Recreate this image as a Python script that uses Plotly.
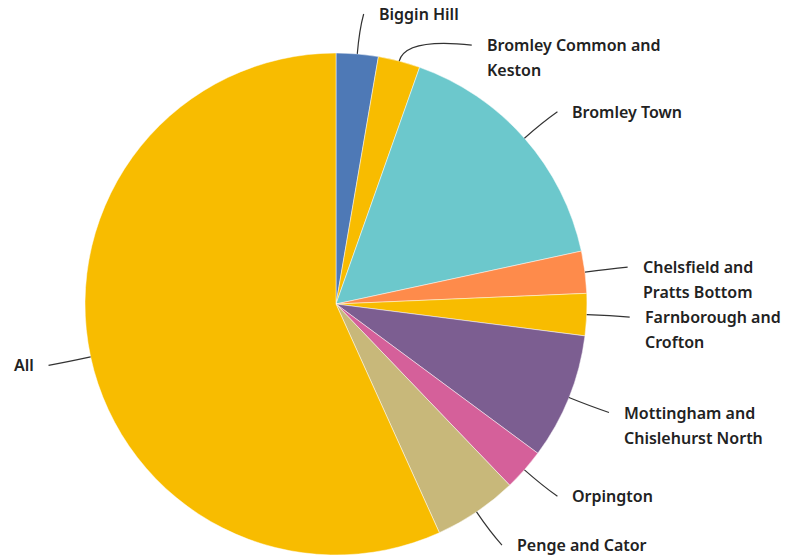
import math
import plotly.graph_objects as go

# Ward breakdown (counts)
wards = [
    "Biggin Hill",
    "Bromley Common and Keston",
    "Bromley Town",
    "Chelsfield and Pratts Bottom",
    "Farnborough and Crofton",
    "Mottingham and Chislehurst North",
    "Orpington",
    "Penge and Cator",
    "All",
]
counts = [1, 1, 6, 1, 1, 3, 1, 2, 21]
label_lines = [
    ["Biggin Hill"],
    ["Bromley Common and", "Keston"],
    ["Bromley Town"],
    ["Chelsfield and", "Pratts Bottom"],
    ["Farnborough and", "Crofton"],
    ["Mottingham and", "Chislehurst North"],
    ["Orpington"],
    ["Penge and Cator"],
    ["All"],
]
colors = ["#4e79b6", "#f8bc00", "#6cc8cc", "#fe8b4b", "#f8bc00",
          "#7c5e91", "#d5609a", "#c8b87a", "#f8bc00"]

W, H = 797, 559
CX, CY, RAD = 336, 304, 251      # pie centre and radius in pixels
LABEL_R = RAD + 40               # radius on which label elbows sit
LINE_H = 25                      # text line height
MIN_SEP = 31                     # minimum distance between label blocks
GAP = 16                         # elbow-to-text gap

def px(x):
    return x / W

def py(y):
    return 1 - y / H

fig = go.Figure(go.Pie(
    labels=wards,
    values=counts,
    sort=False,
    direction="clockwise",
    rotation=0,
    marker=dict(colors=colors, line=dict(color="rgba(255,255,255,0.6)", width=0.8)),
    textinfo="none",
    hoverinfo="label+value+percent",
    domain=dict(x=[px(CX - RAD), px(CX + RAD)], y=[py(CY + RAD), py(CY - RAD)]),
    showlegend=False,
))

# mid-angle of each slice (degrees clockwise from 12 o'clock)
total = sum(counts)
mids = []
acc = 0
for c in counts:
    mids.append((acc + c / 2) / total * 360)
    acc += c

# ideal label heights, then push apart on each side
items = []
for i, a in enumerate(mids):
    t = math.radians(a)
    side = 1 if math.sin(t) >= 0 else -1
    items.append(dict(i=i, a=a, side=side, y=CY - LABEL_R * math.cos(t)))

for side in (1, -1):
    group = sorted([it for it in items if it["side"] == side], key=lambda d: d["y"])
    prev = None
    for it in group:
        if prev is not None:
            need = prev["y"] + max(len(label_lines[prev["i"]]) * LINE_H, MIN_SEP)
            it["y"] = max(it["y"], need)
        prev = it

annotations = []
shapes = []
font = dict(family="Noto Sans", size=16, color="#222222", weight=600)
for it in items:
    i, a, side, y = it["i"], it["a"], it["side"], it["y"]
    t = math.radians(a)
    dy = y - CY
    dx = math.sqrt(max(LABEL_R ** 2 - dy ** 2, 0.0))
    ex = CX + side * dx
    # leader line: from slice edge, bending out to the label
    sx, sy = CX + RAD * math.sin(t), CY - RAD * math.cos(t)
    cx, cy = CX + (RAD + 24) * math.sin(t), CY - (RAD + 24) * math.cos(t)
    path = "M {:.4f},{:.4f} Q {:.4f},{:.4f} {:.4f},{:.4f}".format(
        px(sx), py(sy), px(cx), py(cy), px(ex + side * 3), py(y))
    shapes.append(dict(type="path", path=path, xref="paper", yref="paper",
                       line=dict(color="#333333", width=1.2)))
    tx = ex + side * GAP
    for k, line in enumerate(label_lines[i]):
        annotations.append(dict(
            x=px(tx), y=py(y + k * LINE_H), xref="paper", yref="paper",
            text=line, showarrow=False, font=font,
            xanchor="left" if side == 1 else "right", yanchor="middle",
        ))

fig.update_layout(
    width=W, height=H,
    margin=dict(l=0, r=0, t=0, b=0),
    paper_bgcolor="white",
    plot_bgcolor="white",
    shapes=shapes,
    annotations=annotations,
)

fig.write_html("out.html")
